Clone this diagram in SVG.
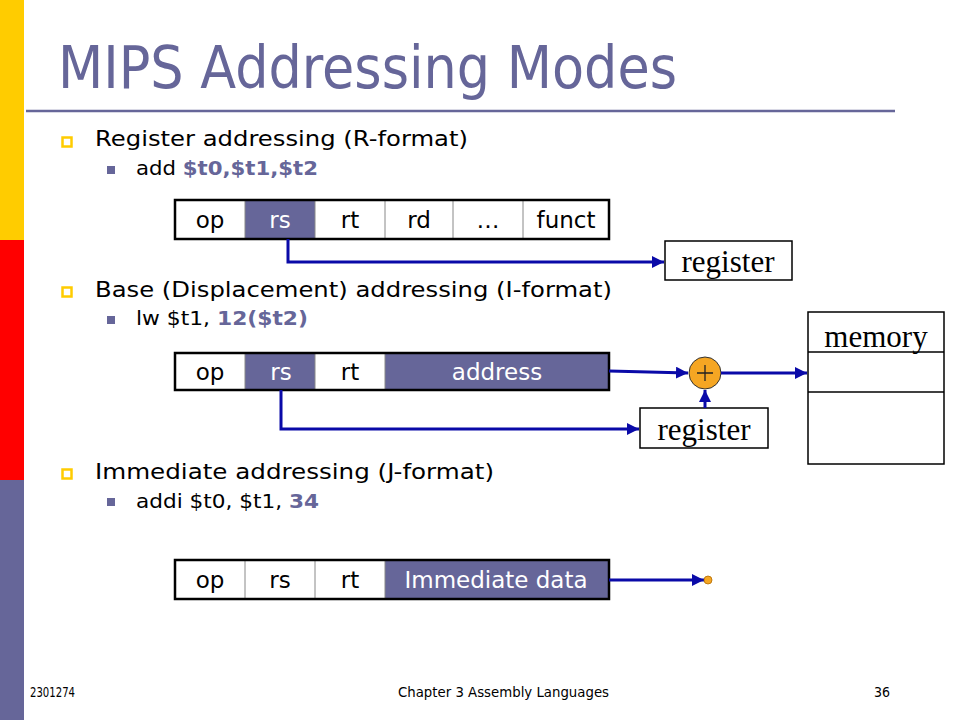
<svg xmlns="http://www.w3.org/2000/svg" width="960" height="720" viewBox="0 0 960 720">
<defs>
<style>
.t{font-family:"DejaVu Sans",Verdana,sans-serif;fill:#000}
.b{font-weight:bold;fill:#666699}
.cell{font-family:"DejaVu Sans",Verdana,sans-serif;font-size:23px;text-anchor:middle}
.w{fill:#fff}
.rom{font-family:"Liberation Serif","Times New Roman",serif;font-size:31px;text-anchor:middle;fill:#000}
.box{fill:#fff;stroke:#000;stroke-width:1.5}
.frame{fill:none;stroke:#000;stroke-width:2.5}
.div{stroke:#888;stroke-width:1}
.fill{fill:#666699}
.con{fill:none;stroke:#0a0aa8;stroke-width:3}
.foot{font-family:"DejaVu Sans Condensed","DejaVu Sans",sans-serif;font-size:14px;fill:#000}
</style>
<marker id="arr" viewBox="0 0 10 10" refX="10" refY="5" markerWidth="4" markerHeight="4" orient="auto" markerUnits="strokeWidth">
<path d="M0,0 L10,5 L0,10 z" fill="#0a0aa8"/>
</marker>
</defs>
<rect width="960" height="720" fill="#fff"/>
<rect x="0" y="0" width="24" height="240" fill="#FFCC00"/>
<rect x="0" y="240" width="24" height="240" fill="#FF0000"/>
<rect x="0" y="480" width="24" height="240" fill="#666699"/>
<text x="58" y="88" font-family="'DejaVu Sans Condensed','DejaVu Sans',sans-serif" font-size="58" fill="#666699" textLength="619" lengthAdjust="spacingAndGlyphs">MIPS Addressing Modes</text>
<line x1="26" y1="111" x2="895" y2="111" stroke="#666699" stroke-width="2.5"/>

<g id="text-bullets">
<rect x="62.5" y="137.5" width="9" height="9" fill="none" stroke="#FFCC00" stroke-width="2.5"/>
<text class="t" x="95" y="146" font-size="22" textLength="373" lengthAdjust="spacingAndGlyphs">Register addressing (R-format)</text>
<rect x="107" y="166" width="8" height="8" fill="#666699"/>
<text class="t" x="136" y="175" font-size="19" textLength="182" lengthAdjust="spacingAndGlyphs">add <tspan class="b">$t0,$t1,$t2</tspan></text>

<rect x="62.5" y="287.5" width="9" height="9" fill="none" stroke="#FFCC00" stroke-width="2.5"/>
<text class="t" x="95" y="297" font-size="22" textLength="517" lengthAdjust="spacingAndGlyphs">Base (Displacement) addressing (I-format)</text>
<rect x="107" y="316" width="8" height="8" fill="#666699"/>
<text class="t" x="136" y="325" font-size="19" textLength="172" lengthAdjust="spacingAndGlyphs">lw $t1, <tspan class="b">12($t2)</tspan></text>

<rect x="62.5" y="469.5" width="9" height="9" fill="none" stroke="#FFCC00" stroke-width="2.5"/>
<text class="t" x="95" y="479" font-size="22" textLength="399" lengthAdjust="spacingAndGlyphs">Immediate addressing (J-format)</text>
<rect x="107" y="498" width="8" height="8" fill="#666699"/>
<text class="t" x="136" y="508" font-size="19" textLength="183" lengthAdjust="spacingAndGlyphs">addi $t0, $t1, <tspan class="b">34</tspan></text>
</g>

<g id="rformat">
<rect x="175" y="200" width="434" height="39" fill="#fff"/>
<rect class="fill" x="245" y="200" width="70" height="39"/>
<line class="div" x1="245" y1="200" x2="245" y2="239"/>
<line class="div" x1="315" y1="200" x2="315" y2="239"/>
<line class="div" x1="385" y1="200" x2="385" y2="239"/>
<line class="div" x1="453" y1="200" x2="453" y2="239"/>
<line class="div" x1="523" y1="200" x2="523" y2="239"/>
<rect class="frame" x="175" y="200" width="434" height="39"/>
<text class="cell" x="210" y="228">op</text>
<text class="cell w" x="280" y="228">rs</text>
<text class="cell" x="350" y="228">rt</text>
<text class="cell" x="419" y="228">rd</text>
<text class="cell" x="488" y="228">…</text>
<text class="cell" x="566" y="228">funct</text>
</g>

<g id="register1">
<rect class="box" x="665" y="241" width="127" height="39"/>
<text class="rom" x="728" y="272">register</text>
</g>

<g id="iformat">
<rect x="175" y="353" width="434" height="37" fill="#fff"/>
<rect class="fill" x="245" y="353" width="70" height="37"/>
<rect class="fill" x="385" y="353" width="224" height="37"/>
<line class="div" x1="245" y1="353" x2="245" y2="390"/>
<line class="div" x1="315" y1="353" x2="315" y2="390"/>
<line class="div" x1="385" y1="353" x2="385" y2="390"/>
<rect class="frame" x="175" y="353" width="434" height="37"/>
<text class="cell" x="210" y="380">op</text>
<text class="cell w" x="281" y="380">rs</text>
<text class="cell" x="350" y="380">rt</text>
<text class="cell w" x="497" y="380">address</text>
</g>

<g id="adder">
<circle cx="705" cy="373" r="16" fill="#F5A623" stroke="#333" stroke-width="1"/>
<path d="M697,373 H713 M705,365 V381" stroke="#222" stroke-width="1.3"/>
</g>

<g id="register2">
<rect class="box" x="640" y="408" width="128" height="40"/>
<text class="rom" x="704" y="440">register</text>
</g>

<g id="memory">
<rect class="box" x="808" y="312" width="136" height="152"/>
<line x1="808" y1="352" x2="944" y2="352" stroke="#000" stroke-width="1.3"/>
<line x1="808" y1="392" x2="944" y2="392" stroke="#000" stroke-width="1.3"/>
<text class="rom" x="876" y="347">memory</text>
</g>

<g id="jformat">
<rect x="175" y="560" width="434" height="39" fill="#fff"/>
<rect class="fill" x="385" y="560" width="224" height="39"/>
<line class="div" x1="245" y1="560" x2="245" y2="599"/>
<line class="div" x1="315" y1="560" x2="315" y2="599"/>
<line class="div" x1="385" y1="560" x2="385" y2="599"/>
<rect class="frame" x="175" y="560" width="434" height="39"/>
<text class="cell" x="210" y="588">op</text>
<text class="cell" x="280" y="588">rs</text>
<text class="cell" x="350" y="588">rt</text>
<text class="cell w" x="496" y="588">Immediate data</text>
</g>

<g id="connectors">
<path class="con" d="M288,239 V262 H664" marker-end="url(#arr)"/>
<path class="con" d="M609,371 L688,373" marker-end="url(#arr)"/>
<path class="con" d="M721,373 H807" marker-end="url(#arr)"/>
<path class="con" d="M705,408 V390" marker-end="url(#arr)"/>
<path class="con" d="M281,390 V429 H639" marker-end="url(#arr)"/>
<path class="con" d="M609,580 L704,580" marker-end="url(#arr)"/>
<circle cx="708" cy="580" r="4" fill="#F5A623" stroke="#b36b00" stroke-width="0.8"/>
</g>

<g id="footer">
<text class="foot" x="30" y="697" textLength="45" lengthAdjust="spacingAndGlyphs">2301274</text>
<text class="foot" x="398" y="697" textLength="211" lengthAdjust="spacingAndGlyphs">Chapter 3 Assembly Languages</text>
<text class="foot" x="890" y="697" text-anchor="end">36</text>
</g>
</svg>
